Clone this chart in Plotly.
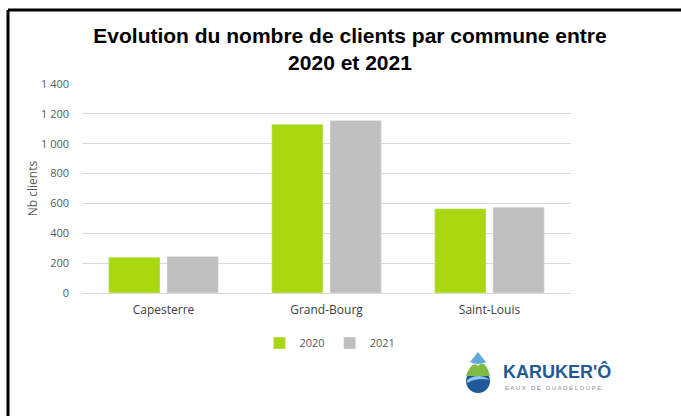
import plotly.graph_objects as go

communes = ["Capesterre", "Grand-Bourg", "Saint-Louis"]
clients_2020 = [240, 1130, 565]
clients_2021 = [244, 1155, 574]
y_ticks = [0, 200, 400, 600, 800, 1000, 1200, 1400]

W, H = 681, 416
L, R, T, B = 82, 110, 84, 123
pw, ph = W - L - R, H - T - B


def px(x):
    return (x - L) / pw


def py(y):
    return (H - B - y) / ph


fig = go.Figure()
fig.add_trace(go.Bar(x=communes, y=clients_2020, name="2020", marker_color="#A9D80E"))
fig.add_trace(go.Bar(x=communes, y=clients_2021, name="2021", marker_color="#BFBFBF"))

shapes = [
    # cadre noir
    dict(type="line", xref="paper", yref="paper", x0=px(8), y0=py(10), x1=px(700), y1=py(10),
         line=dict(color="black", width=3)),
    dict(type="line", xref="paper", yref="paper", x0=px(8), y0=py(10), x1=px(8), y1=py(430),
         line=dict(color="black", width=3)),
    # logo goutte
    dict(type="circle", xref="paper", yref="paper", x0=px(466), x1=px(490), y0=py(369), y1=py(393),
         fillcolor="#1F5A96", line_width=0),
    dict(type="path", xref="paper", yref="paper",
         path=f"M {px(466)},{py(376)} Q {px(472)},{py(360)} {px(478)},{py(366)} Q {px(485)},{py(358)} {px(490)},{py(376)} Z",
         fillcolor="#7DBB42", line_width=0),
    dict(type="path", xref="paper", yref="paper",
         path=f"M {px(470)},{py(362)} L {px(478)},{py(352)} L {px(486)},{py(362)} Q {px(478)},{py(366)} {px(470)},{py(362)} Z",
         fillcolor="#5FA8DC", line_width=0),
    dict(type="path", xref="paper", yref="paper",
         path=f"M {px(467)},{py(380)} Q {px(478)},{py(372)} {px(490)},{py(380)} Q {px(478)},{py(377)} {px(467)},{py(383)} Z",
         fillcolor="#8CC8EC", line_width=0),
]

annotations = [
    dict(text="<b>KARUKER'Ô</b>", xref="paper", yref="paper", x=px(501), y=py(371),
         xanchor="left", yanchor="middle", showarrow=False,
         font=dict(family="Liberation Sans", size=18, color="#1F5A96")),
    dict(text="E A U X   D E   G U A D E L O U P E", xref="paper", yref="paper", x=px(503), y=py(388),
         xanchor="left", yanchor="middle", showarrow=False,
         font=dict(family="Liberation Sans", size=6, color="#7F8C99")),
]

fig.update_layout(
    width=W, height=H,
    margin=dict(l=L, r=R, t=T, b=B),
    paper_bgcolor="white", plot_bgcolor="white",
    separators=", ",
    title=dict(text="<b>Evolution du nombre de clients par commune entre<br>2020 et 2021</b>",
               x=350 / W, xanchor="center", y=1 - 43 / H, yanchor="top",
               font=dict(family="Liberation Sans", size=21, color="black")),
    font=dict(family="Open Sans", size=11, color="#595959"),
    barmode="group", bargap=0.285, bargroupgap=0.12,
    legend=dict(orientation="h", x=px(330), xanchor="center", y=py(343), yanchor="middle",
                font=dict(size=11, color="#595959"), itemwidth=30),
    shapes=shapes, annotations=annotations,
)
fig.update_yaxes(range=[0, 1400], tickvals=y_ticks, tickformat=",d",
                 showgrid=True, gridcolor="#D9D9D9", gridwidth=1, zeroline=False,
                 ticklabelstandoff=12,
                 title=dict(text="Nb clients", font=dict(size=12, color="#595959"), standoff=0))
fig.update_xaxes(showline=True, linecolor="#D9D9D9", linewidth=1, ticks="",
                 tickfont=dict(size=12, color="#404040"), ticklabelstandoff=6)

fig.write_html("out.html", config={"displayModeBar": False},
               post_script="document.body.style.margin='0';")
